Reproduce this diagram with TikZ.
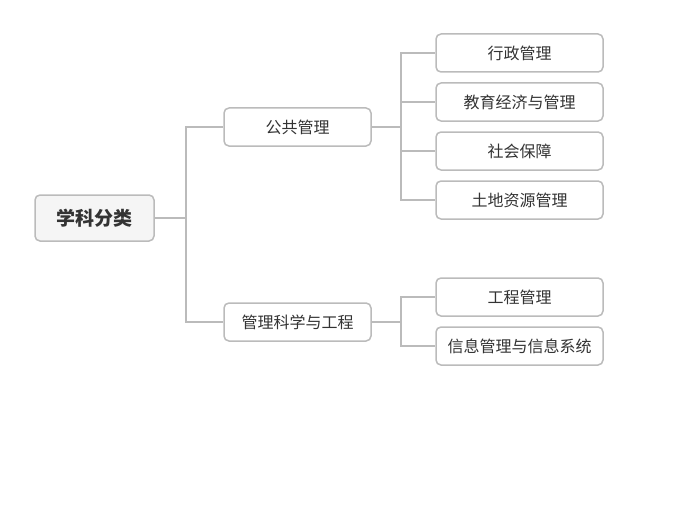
\documentclass[tikz,border=0pt]{standalone}
\usepackage{fontspec}
\newfontfamily\cjk{Noto Sans CJK SC}
\definecolor{linegray}{HTML}{BBBBBB}
\definecolor{txt}{HTML}{333333}
\definecolor{rootfill}{HTML}{F5F5F5}
\begin{document}
\begin{tikzpicture}[x=1pt,y=-1pt,
  box/.style={draw=linegray,line width=1.5pt,rounded corners=5pt,fill=white,
    minimum height=38pt,inner sep=0pt,text=txt,font=\cjk\fontsize{16}{19}\selectfont},
  mid/.style={box,minimum width=147pt},
  leaf/.style={box,minimum width=167pt},
  rootbox/.style={box,minimum width=119pt,minimum height=46pt,fill=rootfill,
    font=\cjk\bfseries\fontsize{19}{22}\selectfont},
  conn/.style={draw=linegray,line width=1.4pt}]
\useasboundingbox (0,0) rectangle (687,524);
\node[rootbox] (root) at (94.5,218) {学科分类};
\node[mid] (gg) at (297.5,127) {公共管理};
\node[mid] (gl) at (297.5,322) {管理科学与工程};
\node[leaf] (l1) at (519.5,53) {行政管理};
\node[leaf] (l2) at (519.5,102) {教育经济与管理};
\node[leaf] (l3) at (519.5,151) {社会保障};
\node[leaf] (l4) at (519.5,200) {土地资源管理};
\node[leaf] (l5) at (519.5,297) {工程管理};
\node[leaf] (l6) at (519.5,346) {信息管理与信息系统};
\coordinate (j0) at (186,218);
\coordinate (j1) at (401,127);
\coordinate (j2) at (401,322);
\draw[conn] (root.east) -- (j0);
\draw[conn] (j0) |- (gg.west);
\draw[conn] (j0) |- (gl.west);
\draw[conn] (gg.east) -- (j1);
\foreach \n in {l1,l2,l3,l4} \draw[conn] (j1) |- (\n.west);
\draw[conn] (gl.east) -- (j2);
\foreach \n in {l5,l6} \draw[conn] (j2) |- (\n.west);
\end{tikzpicture}
\end{document}
